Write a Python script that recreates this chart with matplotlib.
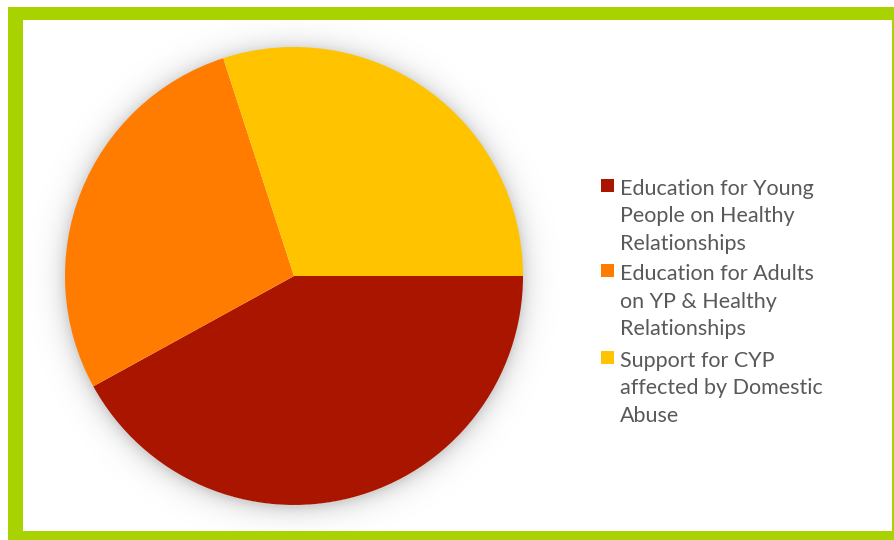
import numpy as np
import matplotlib
matplotlib.use("Agg")
import matplotlib.pyplot as plt
from matplotlib.patches import Rectangle

# Share of provision by area
categories = [
    "Education for Young\nPeople on Healthy\nRelationships",
    "Education for Adults\non YP & Healthy\nRelationships",
    "Support for CYP\naffected by Domestic\nAbuse",
]
values = [42, 28, 30]
colors = ["#AA1500", "#FF7C00", "#FFC300"]

W, H = 894, 540
fig = plt.figure(figsize=(W / 100, H / 100), dpi=100)
fig.patch.set_facecolor("white")
ax = fig.add_axes([0, 0, 1, 1])

# Green frame with white panel
ax.add_patch(Rectangle((8, 0), W - 8, H - 7, facecolor="#A9D300", edgecolor="none", zorder=0))
panel_xy = (23, H - 531)
panel_w, panel_h = 892 - 23, 531 - 20
ax.add_patch(Rectangle(panel_xy, panel_w, panel_h, facecolor="white", edgecolor="none", zorder=1))

cx, cy, R = 294, H - 276, 229

wedges, _ = ax.pie(values, colors=colors, startangle=0, counterclock=False,
                   center=(cx, cy), radius=R, frame=True,
                   wedgeprops=dict(linewidth=0, antialiased=True))
for w in wedges:
    w.set_zorder(3)
ax.set_xlim(0, W)
ax.set_ylim(0, H)
ax.set_aspect("equal")
ax.axis("off")

# Soft glow around the pie
yy, xx = np.mgrid[0:H, 0:W]
d = np.hypot(xx + 0.5 - cx, (H - yy - 0.5) - (cy - 2))
glow = np.where(d > R - 2, 0.17 * np.exp(-np.clip(d - R, 0, None) / 10.0), 0.0)
rgba = np.zeros((H, W, 4))
rgba[..., 3] = glow
img = ax.imshow(rgba, extent=(0, W, 0, H), origin="upper", zorder=2, interpolation="bilinear")
img.set_clip_path(Rectangle(panel_xy, panel_w, panel_h, transform=ax.transData))
ax.set_xlim(0, W)
ax.set_ylim(0, H)

# Legend
tx, mx = 620, 601
first_baselines = [195, 280, 367]
line_gap = 27.5
for lab, col, b in zip(categories, colors, first_baselines):
    ax.add_patch(Rectangle((mx, H - (b - 3)), 13, 13, facecolor=col, edgecolor="none", zorder=4))
    for i, line in enumerate(lab.split("\n")):
        ax.text(tx, H - (b + i * line_gap), line, fontsize=15.5, family="Lato",
                color="#595959", va="baseline", ha="left", zorder=5)

fig.savefig("out.png", dpi=100)
